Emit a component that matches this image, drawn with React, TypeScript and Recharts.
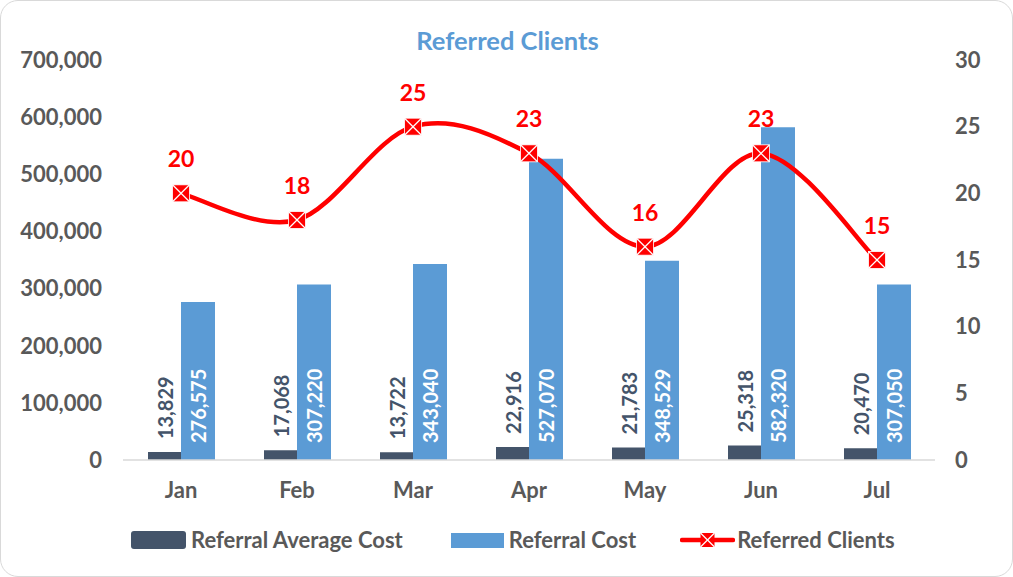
import React from 'react';
import { ComposedChart, Bar, Line, XAxis, YAxis, LabelList } from 'recharts';

const months = ['Jan', 'Feb', 'Mar', 'Apr', 'May', 'Jun', 'Jul'];
const averageCost = [13829, 17068, 13722, 22916, 21783, 25318, 20470];
const referralCost = [276575, 307220, 343040, 527070, 348529, 582320, 307050];
const referredClients = [20, 18, 25, 23, 16, 23, 15];
const leftTicks = [0, 100000, 200000, 300000, 400000, 500000, 600000, 700000];
const rightTicks = [0, 5, 10, 15, 20, 25, 30];

const data = months.map((m, i) => ({
  month: m,
  avg: averageCost[i],
  cost: referralCost[i],
  clients: referredClients[i],
}));

const FONT = 'Lato, "Open Sans", sans-serif';
const DARK = '#44546a';
const BLUE = '#5b9bd5';
const RED = '#ff0000';
const GREY = '#595959';

const fmt = (v: number) => Number(v).toLocaleString('en-US');

// Catmull-Rom style smoothing similar to Excel's smoothed line
const smoothCurve = (context: any) => {
  let pts: number[][] = [];
  return {
    areaStart() {},
    areaEnd() {},
    lineStart() {
      pts = [];
    },
    point(x: number, y: number) {
      pts.push([+x, +y]);
    },
    lineEnd() {
      if (!pts.length) return;
      context.moveTo(pts[0][0], pts[0][1]);
      for (let i = 0; i < pts.length - 1; i++) {
        const p0 = pts[i - 1] || pts[i];
        const p1 = pts[i];
        const p2 = pts[i + 1];
        const p3 = pts[i + 2] || p2;
        const c1x = p1[0] + (p2[0] - p0[0]) / 6;
        const c1y = p1[1] + (p2[1] - p0[1]) / 6;
        const c2x = p2[0] - (p3[0] - p1[0]) / 6;
        const c2y = p2[1] - (p3[1] - p1[1]) / 6;
        context.bezierCurveTo(c1x, c1y, c2x, c2y, p2[0], p2[1]);
      }
    },
  };
};

const getBox = (p: any) => {
  const vb = p.viewBox || {};
  return {
    x: Number(p.x ?? vb.x),
    y: Number(p.y ?? vb.y),
    w: Number(p.width ?? vb.width),
    h: Number(p.height ?? vb.height),
  };
};

const AvgLabel = (p: any) => {
  const { x, y, w } = getBox(p);
  const cx = x + w / 2;
  const sy = y - 13;
  return (
    <text
      x={cx}
      y={sy}
      transform={`rotate(-90 ${cx} ${sy})`}
      textAnchor="start"
      dominantBaseline="central"
      fill={DARK}
      fontSize={20}
      fontWeight="bold"
      fontFamily={FONT}
    >
      {fmt(p.value)}
    </text>
  );
};

const CostLabel = (p: any) => {
  const { x, y, w, h } = getBox(p);
  const cx = x + w / 2;
  const sy = y + h - 17;
  return (
    <text
      x={cx}
      y={sy}
      transform={`rotate(-90 ${cx} ${sy})`}
      textAnchor="start"
      dominantBaseline="central"
      fill="#ffffff"
      fontSize={20}
      fontWeight="bold"
      fontFamily={FONT}
    >
      {fmt(p.value)}
    </text>
  );
};

const Marker = (p: any) => {
  const { cx, cy, index } = p;
  if (cx == null || cy == null) return <g key={`m-${index}`} />;
  const s = 8.5;
  return (
    <g key={`m-${index}`}>
      <rect x={cx - s} y={cy - s} width={s * 2} height={s * 2} fill={RED} stroke="#ffffff" strokeWidth={0.8} />
      <line x1={cx - s} y1={cy - s} x2={cx + s} y2={cy + s} stroke="#ffffff" strokeWidth={1.3} />
      <line x1={cx - s} y1={cy + s} x2={cx + s} y2={cy - s} stroke="#ffffff" strokeWidth={1.3} />
    </g>
  );
};

const tickStyle = { fill: GREY, fontSize: 22, fontWeight: 'bold', fontFamily: FONT } as any;

export default function App() {
  return (
    <div
      style={{
        position: 'absolute',
        left: 0,
        top: 0,
        width: 1013,
        height: 577,
        boxSizing: 'border-box',
        border: '1.5px solid #d9d9d9',
        borderRadius: 18,
        background: '#ffffff',
        fontFamily: FONT,
        overflow: 'hidden',
      }}
    >
      <div
        style={{
          position: 'absolute',
          left: 0,
          width: 1013,
          top: 24,
          textAlign: 'center',
          color: BLUE,
          fontSize: 25.5,
          fontWeight: 'bold',
          lineHeight: '30px',
        }}
      >
        Referred Clients
      </div>
      <div style={{ position: 'absolute', left: -1.5, top: -1.5 }}>
        <ComposedChart
          width={1013}
          height={577}
          data={data}
          margin={{ top: 60, right: 0, bottom: 77, left: 0 }}
          barSize={34}
          barGap={-1}
        >
          <XAxis
            dataKey="month"
            axisLine={{ stroke: '#d9d9d9', strokeWidth: 1.5 }}
            tickLine={false}
            tick={tickStyle}
            tickMargin={16}
            height={40}
          />
          <YAxis
            yAxisId="left"
            orientation="left"
            width={123}
            domain={[0, 700000]}
            ticks={leftTicks}
            tickFormatter={fmt}
            axisLine={false}
            tickLine={false}
            tick={tickStyle}
            tickMargin={15}
          />
          <YAxis
            yAxisId="right"
            orientation="right"
            width={78}
            domain={[0, 30]}
            ticks={rightTicks}
            axisLine={false}
            tickLine={false}
            tick={{ ...tickStyle, textAnchor: 'start' }}
            tickMargin={14}
          />
          <Bar yAxisId="left" dataKey="avg" fill={DARK} isAnimationActive={false}>
            <LabelList dataKey="avg" content={AvgLabel} />
          </Bar>
          <Bar yAxisId="left" dataKey="cost" fill={BLUE} isAnimationActive={false}>
            <LabelList dataKey="cost" content={CostLabel} />
          </Bar>
          <Line
            yAxisId="right"
            dataKey="clients"
            type={smoothCurve as any}
            stroke={RED}
            strokeWidth={4.5}
            dot={Marker}
            activeDot={false}
            isAnimationActive={false}
          >
            <LabelList
              dataKey="clients"
              position="top"
              offset={26}
              fill={RED}
              fontSize={23}
              fontWeight="bold"
              fontFamily={FONT}
            />
          </Line>
        </ComposedChart>
      </div>
      <div
        style={{
          position: 'absolute',
          left: 130,
          top: 526,
          display: 'flex',
          alignItems: 'center',
          color: GREY,
          fontSize: 22,
          fontWeight: 'bold',
          lineHeight: '26px',
        }}
      >
        <div style={{ display: 'flex', alignItems: 'center' }}>
          <div style={{ width: 55, height: 18, background: DARK, borderRadius: 3 }} />
          <span style={{ marginLeft: 5 }}>Referral Average Cost</span>
        </div>
        <div style={{ display: 'flex', alignItems: 'center', marginLeft: 48 }}>
          <div style={{ width: 53, height: 15, background: BLUE }} />
          <span style={{ marginLeft: 5 }}>Referral Cost</span>
        </div>
        <div style={{ display: 'flex', alignItems: 'center', marginLeft: 44 }}>
          <svg width={55} height={20}>
            <line x1={2} y1={10} x2={53} y2={10} stroke={RED} strokeWidth={4.5} strokeLinecap="round" />
            <rect x={20.5} y={3} width={14} height={14} fill={RED} />
            <line x1={20.5} y1={3} x2={34.5} y2={17} stroke="#fff" strokeWidth={1.2} />
            <line x1={20.5} y1={17} x2={34.5} y2={3} stroke="#fff" strokeWidth={1.2} />
          </svg>
          <span style={{ marginLeft: 2 }}>Referred Clients</span>
        </div>
      </div>
    </div>
  );
}
